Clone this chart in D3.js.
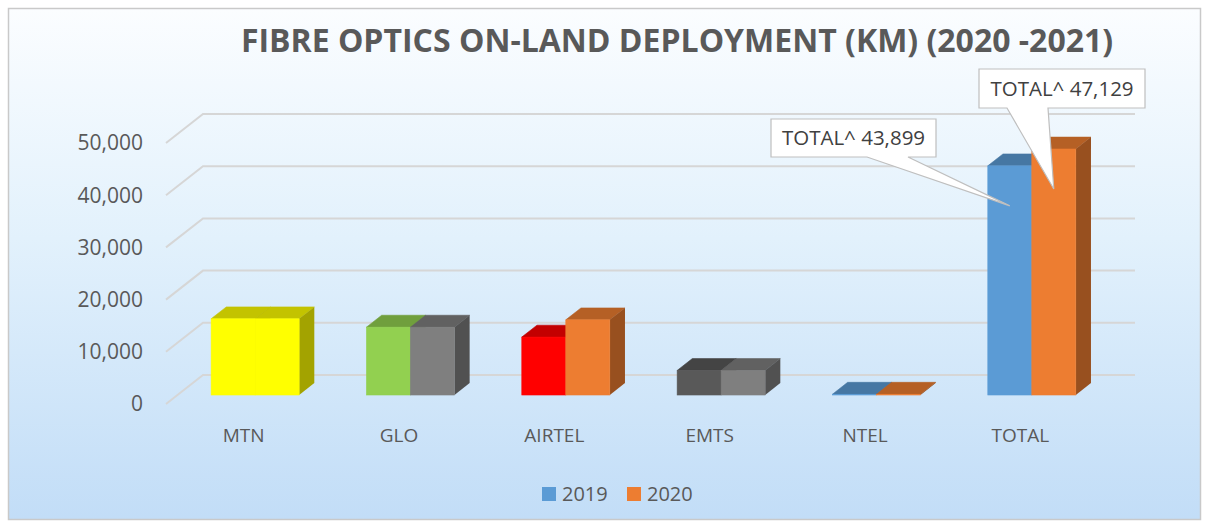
<!DOCTYPE html>
<html>
<head>
<meta charset="utf-8">
<script src="https://cdn.jsdelivr.net/npm/d3@7"></script>
<style>
  html, body { margin: 0; padding: 0; background: #fff; }
  svg { display: block; }
  text { font-family: "Open Sans", sans-serif; fill: #595959; }
</style>
</head>
<body>
<svg width="1209" height="523"></svg>
<script>
const categories = ["MTN", "GLO", "AIRTEL", "EMTS", "NTEL", "TOTAL"]
const seriesNames = ["2019", "2020"]
const values2019 = [14600, 13000, 11100, 4700, 150, 43899]
const values2020 = [14600, 13000, 14400, 4700, 150, 47129]
const colors2019 = ["#FFFF00", "#92D050", "#FF0000", "#595959", "#5B9BD5", "#5B9BD5"]
const colors2020 = ["#FFFF00", "#7F7F7F", "#ED7D31", "#7F7F7F", "#ED7D31", "#ED7D31"]
const legendColors = ["#5B9BD5", "#ED7D31"]
const yTicks = [0, 10000, 20000, 30000, 40000, 50000]
const callouts = ["TOTAL^ 43,899", "TOTAL^ 47,129"]

const svg = d3.select("svg")

// background + frame
const defs = svg.append("defs")
const grad = defs.append("linearGradient")
    .attr("id", "bg").attr("x1", 0).attr("y1", 0).attr("x2", 0).attr("y2", 1)
grad.append("stop").attr("offset", "0%").attr("stop-color", "#fbfdff")
grad.append("stop").attr("offset", "45%").attr("stop-color", "#e2f1fc")
grad.append("stop").attr("offset", "100%").attr("stop-color", "#c2ddf7")

svg.append("rect")
    .attr("x", 8.5).attr("y", 8.5).attr("width", 1192).attr("height", 511)
    .attr("fill", "url(#bg)")
    .attr("stroke", "#c9c9c9").attr("stroke-width", 1.5)

// front-plane scales, plus a depth offset for the 3d look
const x = d3.scaleBand().domain(categories).range([166, 1098])
const y = d3.scaleLinear().domain([0, 50000]).range([404, 143])
const depthX = 37, depthY = -29
const barFront = 0.31, barBack = 0.72
const barPad = 44

// gridlines: diagonal on side wall, then along the back wall
svg.append("g")
  .selectAll("path")
  .data(yTicks)
  .enter().append("path")
    .attr("d", d => `M166,${y(d)} L${166 + depthX},${y(d) + depthY} L1135,${y(d) + depthY}`)
    .attr("fill", "none")
    .attr("stroke", "#d6d6d6")
    .attr("stroke-width", 2)

// y labels
svg.append("g")
  .selectAll("text")
  .data(yTicks)
  .enter().append("text")
    .attr("x", 143)
    .attr("y", d => y(d))
    .attr("dy", "0.35em")
    .attr("text-anchor", "end")
    .attr("font-size", 21)
    .text(d => d3.format(",")(d))

// bars
const bars = []
categories.forEach((c, i) => {
  const cx = x(c) + x.bandwidth() / 2
  bars.push({cat: c, v: values2019[i], color: colors2019[i], x0: cx - barPad, x1: cx})
  bars.push({cat: c, v: values2020[i], color: colors2020[i], x0: cx, x1: cx + barPad})
})

const dx = depthX * barFront, dy = depthY * barFront
const bdx = depthX * (barBack - barFront), bdy = depthY * (barBack - barFront)

const barG = svg.append("g").selectAll("g").data(bars).enter().append("g")
barG.append("path")
    .attr("d", d => {
      let x0 = d.x0 + dx, x1 = d.x1 + dx, yt = y(d.v) + dy
      return `M${x0},${yt} L${x0 + bdx},${yt + bdy} L${x1 + bdx},${yt + bdy} L${x1},${yt}Z`
    })
    .attr("fill", d => d3.color(d.color).darker(0.75))
    .attr("stroke", d => d3.color(d.color).darker(0.75))
    .attr("stroke-width", 0.6)
barG.append("path")
    .attr("d", d => {
      let x1 = d.x1 + dx, yb = y(0) + dy, yt = y(d.v) + dy
      return `M${x1},${yt} L${x1 + bdx},${yt + bdy} L${x1 + bdx},${yb + bdy} L${x1},${yb}Z`
    })
    .attr("fill", d => d3.color(d.color).darker(1.25))
barG.append("rect")
    .attr("x", d => d.x0 + dx)
    .attr("y", d => y(d.v) + dy)
    .attr("width", barPad)
    .attr("height", d => y(0) - y(d.v))
    .attr("fill", d => d.color)
    .attr("stroke", d => d.color)
    .attr("stroke-width", 0.6)

// category labels
svg.append("g")
  .selectAll("text")
  .data(categories)
  .enter().append("text")
    .attr("x", d => x(d) + x.bandwidth() / 2)
    .attr("y", 442)
    .attr("text-anchor", "middle")
    .attr("font-size", 19)
    .text(d => d)

// title
svg.append("text")
    .attr("x", 677)
    .attr("y", 52)
    .attr("text-anchor", "middle")
    .attr("font-size", 32)
    .attr("font-weight", "bold")
    .text("FIBRE OPTICS ON-LAND DEPLOYMENT (KM) (2020 -2021)")

// callouts on the TOTAL bars
const totalBars = bars.filter(b => b.cat === "TOTAL")
const boxes = [
  {x: 771, y: 119, w: 165, h: 38, b0: 867, b1: 908},
  {x: 979, y: 69, w: 166, h: 39, b0: 1007, b1: 1048}
]
boxes.forEach((b, i) => {
  const bar = totalBars[i]
  const tipX = (bar.x0 + bar.x1) / 2 + dx
  const tipY = y(bar.v) + dy + 40
  const g = svg.append("g")
  g.append("path")
      .attr("d", `M${b.x},${b.y} H${b.x + b.w} V${b.y + b.h} H${b.b1} L${tipX},${tipY} L${b.b0},${b.y + b.h} H${b.x}Z`)
      .attr("fill", "#fff")
      .attr("stroke", "#bfbfbf")
      .attr("stroke-width", 1.2)
  g.append("text")
      .attr("x", b.x + b.w / 2)
      .attr("y", b.y + b.h / 2)
      .attr("dy", "0.35em")
      .attr("text-anchor", "middle")
      .attr("font-size", 20.5)
      .style("fill", "#404040")
      .text(callouts[i])
})

// legend
const legend = svg.append("g").selectAll("g")
  .data(seriesNames)
  .enter().append("g")
    .attr("transform", (d, i) => `translate(${542 + i * 85},487)`)
legend.append("rect")
    .attr("width", 14).attr("height", 14)
    .attr("fill", (d, i) => legendColors[i])
legend.append("text")
    .attr("x", 20).attr("y", 7)
    .attr("dy", "0.35em")
    .attr("font-size", 20)
    .text(d => d)
</script>
</body>
</html>
